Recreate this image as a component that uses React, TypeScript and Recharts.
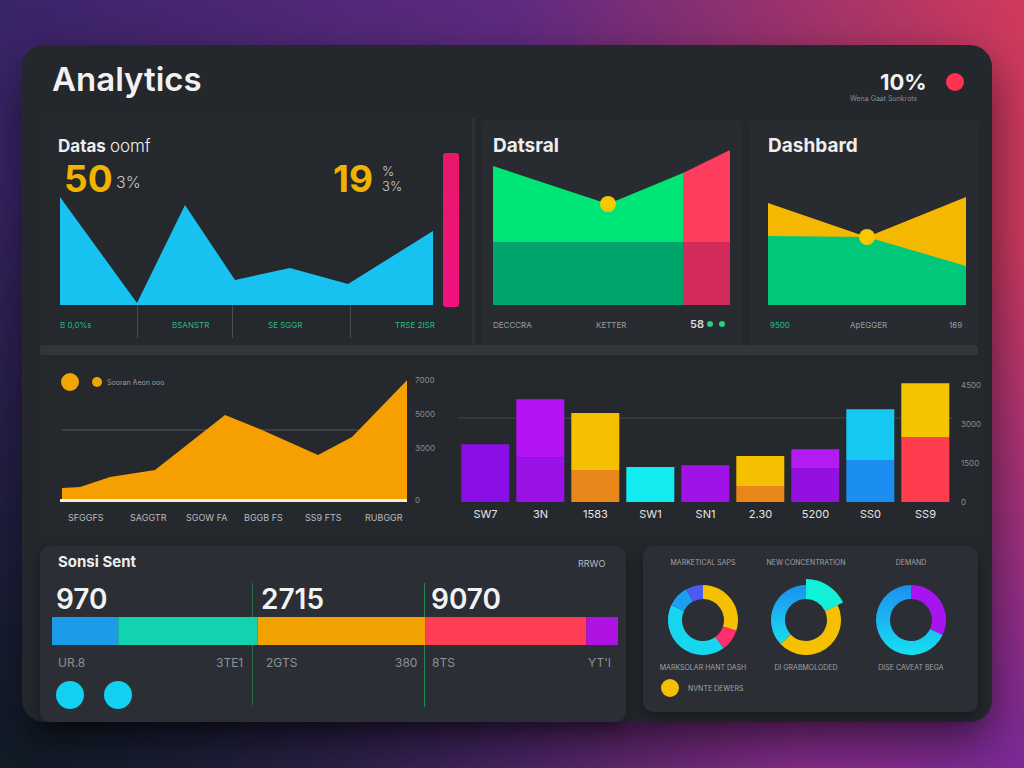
import {
  AreaChart, Area, BarChart, Bar, Cell, PieChart, Pie, XAxis, YAxis,
  CartesianGrid, ReferenceDot,
} from 'recharts';

// top-left: cyan area (x positions are uneven)
const trafficX = [0, 77, 125, 175, 230, 288, 373];
const trafficVals = [108, 2, 100, 25, 37, 21, 74];
const trafficLabels = ['B 0,0%s', 'BSANSTR', 'SE SGGR', 'TRSE 2ISR'];

// top-middle: stacked green / red area
const datsralX = [0, 115, 190, 237];
const datsralBase = [63, 63, 63, 63];
const datsralTop = [76, 38, 69, 92];

// top-right: yellow behind green
const dashX = [0, 99, 198];
const dashYellow = [102, 68, 108];
const dashGreen = [69, 68, 39];

// middle-left: orange area
const revenueX = [0, 18, 48, 93, 163, 200, 256, 290, 345];
const revenueVals = [700, 760, 1340, 1750, 4960, 4090, 2630, 3680, 7000];
const revenueTicks = [0, 3000, 5000, 7000];
const revenueLabels = ['SFGGFS', 'SAGGTR', 'SGOW FA', 'BGGB FS', 'SS9 FTS', 'RUBGGR'];

// middle-right: stacked bars
const barCats = ['SW7', '3N', '1583', 'SW1', 'SN1', '2.30', '5200', 'SS0', 'SS9'];
const barLow = [2230, 1730, 1230, 1350, 1420, 620, 1310, 1620, 2500];
const barHigh = [0, 2230, 2200, 0, 0, 1150, 730, 1960, 2080];
const lowColors = ['#8a0ee6', '#9b12e6', '#e8861a', '#12ecf0', '#a012e8', '#e8861a', '#9410e0', '#1c8ef2', '#ff3d4f'];
const highColors = ['#b414f4', '#b414f4', '#f5c000', '#12ecf0', '#a012e8', '#f5c000', '#b41cf2', '#14c8f2', '#f5c400'];
const barTicks = [0, 1500, 3000, 4500];

// bottom-left: horizontal stacked bar
const shareKeys = ['a', 'b', 'c', 'd', 'e'];
const shareVals = [11.7, 24.6, 29.7, 28.4, 5.6];
const shareColors = ['#1c9ce8', '#12d2b0', '#f2a200', '#ff3d55', '#b012e2'];
const shareBig = ['970', '2715', '9070'];
const shareSmall = ['UR.8', '3TE1', '2GTS', '380', '8TS', "YT'I"];

// donuts
const donut1 = [30, 10, 42, 10, 8];
const donut1Colors = ['#f5c000', '#ff2e6e', '#16d6f0', '#1e9ef0', '#4a5cf0'];
const donut2 = [18, 45, 37];
const donut2Colors = ['#12f0d8', '#f5c000', '#1eb4f0'];
const donut3 = [32, 68];
const donut3Colors = ['#a814f0', '#16d0f0'];
const donutTitles = ['MARKETICAL SAPS', 'NEW CONCENTRATION', 'DEMAND'];
const donutNotes = ['MARKSOLAR HANT DASH', 'DI GRABMOLODED', 'DISE CAVEAT BEGA'];

const FONT = "Inter, 'Open Sans', 'DejaVu Sans', sans-serif";
const M = { top: 0, right: 0, bottom: 0, left: 0 };

const abs = (left: number, top: number, extra: any = {}): any => ({
  position: 'absolute', left, top, ...extra,
});

const Txt = ({ x, y, size, color, weight = 400, children, extra = {} }: any) => (
  <div style={abs(x, y, { fontSize: size, color, fontWeight: weight, lineHeight: 1, whiteSpace: 'nowrap', ...extra })}>
    {children}
  </div>
);

const Dot = ({ cx, cy, r, color }: any) => (
  <div style={abs(cx - r, cy - r, { width: r * 2, height: r * 2, borderRadius: '50%', background: color })} />
);

const VLine = ({ x, y1, y2, color }: any) => (
  <div style={abs(x, y1, { width: 1, height: y2 - y1, background: color })} />
);

const Donut = ({ cx, data, colors, id, extra }: any) => {
  const rows = data.map((v: number, i: number) => ({ name: `s${i}`, v }));
  return (
    <div style={abs(cx - 45, 575, { width: 90, height: 90 })}>
      <PieChart width={90} height={90} margin={M}>
        <defs>
          <linearGradient id={id} x1="0" y1="0" x2="0" y2="1">
            <stop offset="0%" stopColor="#1e8ff0" />
            <stop offset="100%" stopColor="#16e0f0" />
          </linearGradient>
        </defs>
        <Pie data={rows} dataKey="v" cx={45} cy={45} innerRadius={21} outerRadius={35}
          startAngle={90} endAngle={-270} stroke="none" isAnimationActive={false}>
          {rows.map((_: any, i: number) => <Cell key={i} fill={colors[i]} />)}
        </Pie>
        {extra}
      </PieChart>
    </div>
  );
};

export default function App() {
  const trafficData = trafficX.map((t, i) => ({ t, v: trafficVals[i] }));
  const datsralData = datsralX.map((t, i) => ({ t, base: datsralBase[i], top: datsralTop[i] }));
  const dashData = dashX.map((t, i) => ({ t, y: dashYellow[i], g: dashGreen[i] }));
  const revenueData = revenueX.map((t, i) => ({ t, v: revenueVals[i] }));
  const barData = barCats.map((name, i) => ({ name, low: barLow[i], high: barHigh[i] }));
  const shareRow = [Object.fromEntries(shareKeys.map((k, i) => [k, shareVals[i]]))];
  const split = (190 / 237) * 100;

  return (
    <div style={abs(0, 0, {
      width: 1024, height: 768, overflow: 'hidden', fontFamily: FONT,
      background: 'radial-gradient(ellipse at 0% 100%, #101c26 0%, rgba(16,28,38,0) 55%), radial-gradient(ellipse at 100% 100%, #7a2a9a 0%, rgba(122,42,154,0) 50%), linear-gradient(90deg, #3a2468 0%, #5e2a80 50%, #d03a5c 100%)',
    })}>
      {/* main card */}
      <div style={abs(22, 45, {
        width: 970, height: 677, borderRadius: 22, background: '#24272c',
        boxShadow: '0 20px 50px rgba(0,0,0,0.55)',
      })} />

      {/* section panels */}
      <div style={abs(40, 118, { width: 432, height: 228, background: '#25282d', borderRight: '3px solid #2e3136' })} />
      <div style={abs(482, 120, { width: 260, height: 226, background: '#282b30', borderRadius: 6 })} />
      <div style={abs(750, 120, { width: 228, height: 226, background: '#282b30', borderRadius: 6 })} />
      <div style={abs(40, 345, { width: 938, height: 10, background: '#32353a', borderRadius: 3 })} />
      <div style={abs(40, 358, { width: 938, height: 175, background: '#25282d' })} />
      <div style={abs(40, 546, { width: 586, height: 176, background: '#2b2e34', borderRadius: 10, boxShadow: '0 6px 16px rgba(0,0,0,0.35)' })} />
      <div style={abs(643, 546, { width: 335, height: 166, background: '#2b2e34', borderRadius: 10, boxShadow: '0 6px 16px rgba(0,0,0,0.35)' })} />

      {/* header */}
      <Txt x={52} y={63} size={33} color="#f2f2f2" weight={600}>Analytics</Txt>
      <Txt x={880} y={71} size={22} color="#f2f2f2" weight={700}>10%</Txt>
      <Txt x={850} y={95} size={7} color="#8a8d92">Wena Gaat Sunkrots</Txt>
      <Dot cx={955} cy={82} r={9} color="#ff3350" />

      {/* top-left */}
      <Txt x={58} y={138} size={17} color="#eeeeee" weight={700}>Datas <span style={{ fontWeight: 300 }}>oomf</span></Txt>
      <Txt x={64} y={160} size={37} color="#f0b400" weight={700}>50</Txt>
      <Txt x={116} y={174} size={16} color="#c8c8c8" weight={300}>3%</Txt>
      <Txt x={333} y={160} size={37} color="#f0b400" weight={700}>19</Txt>
      <Txt x={382} y={165} size={13} color="#c8c8c8" weight={300}>%</Txt>
      <Txt x={382} y={180} size={13} color="#c8c8c8" weight={300}>3%</Txt>
      <div style={abs(60, 190, { width: 373, height: 115 })}>
        <AreaChart width={373} height={115} data={trafficData} margin={M}>
          <XAxis type="number" dataKey="t" domain={['dataMin', 'dataMax']} hide />
          <YAxis domain={[0, 115]} hide />
          <Area type="linear" dataKey="v" stroke="none" fill="#17c2f0" fillOpacity={1} isAnimationActive={false} />
        </AreaChart>
      </div>
      <div style={abs(443, 153, { width: 16, height: 154 })}>
        <BarChart width={16} height={154} data={[{ v: 1 }]} margin={M} barCategoryGap={0}>
          <defs>
            <linearGradient id="pinkBar" x1="0" y1="0" x2="0" y2="1">
              <stop offset="0%" stopColor="#e8186a" />
              <stop offset="100%" stopColor="#f0127e" />
            </linearGradient>
          </defs>
          <XAxis hide />
          <YAxis domain={[0, 1]} hide />
          <Bar dataKey="v" fill="url(#pinkBar)" radius={3} isAnimationActive={false} />
        </BarChart>
      </div>
      {[137, 232, 350].map((x) => <VLine key={x} x={x} y1={305} y2={338} color="#4a4d52" />)}
      {trafficLabels.map((l, i) => (
        <Txt key={l} x={[60, 172, 268, 395][i]} y={321} size={8} color="#1fbf7f">{l}</Txt>
      ))}

      {/* top-middle */}
      <Txt x={493} y={136} size={19} color="#eeeeee" weight={700}>Datsral</Txt>
      <div style={abs(493, 150, { width: 237, height: 155 })}>
        <AreaChart width={237} height={155} data={datsralData} margin={M}>
          <defs>
            <linearGradient id="dsLow" x1="0" y1="0" x2="1" y2="0">
              <stop offset={`${split}%`} stopColor="#00a56c" />
              <stop offset={`${split}%`} stopColor="#d22a5a" />
            </linearGradient>
            <linearGradient id="dsTop" x1="0" y1="0" x2="1" y2="0">
              <stop offset={`${split}%`} stopColor="#00e676" />
              <stop offset={`${split}%`} stopColor="#ff3d5e" />
            </linearGradient>
          </defs>
          <XAxis type="number" dataKey="t" domain={['dataMin', 'dataMax']} hide />
          <YAxis domain={[0, 155]} hide />
          <Area type="linear" dataKey="base" stackId="a" stroke="none" fill="url(#dsLow)" fillOpacity={1} isAnimationActive={false} />
          <Area type="linear" dataKey="top" stackId="a" stroke="none" fill="url(#dsTop)" fillOpacity={1} isAnimationActive={false} />
          <ReferenceDot x={datsralX[1]} y={datsralBase[1] + datsralTop[1]} r={8} fill="#f5c800" stroke="none" />
        </AreaChart>
      </div>
      <Txt x={493} y={321} size={8} color="#9a9da2">DECCCRA</Txt>
      <Txt x={596} y={321} size={8} color="#9a9da2">KETTER</Txt>
      <Txt x={690} y={319} size={11} color="#dddddd" weight={600}>58</Txt>
      <Dot cx={710} cy={324} r={3} color="#1fd37f" />
      <Dot cx={722} cy={324} r={3} color="#1fd37f" />

      {/* top-right */}
      <Txt x={768} y={136} size={19} color="#eeeeee" weight={700}>Dashbard</Txt>
      <div style={abs(768, 190, { width: 198, height: 115 })}>
        <AreaChart width={198} height={115} data={dashData} margin={M}>
          <XAxis type="number" dataKey="t" domain={['dataMin', 'dataMax']} hide />
          <YAxis domain={[0, 115]} hide />
          <Area type="linear" dataKey="y" stroke="none" fill="#f5b800" fillOpacity={1} isAnimationActive={false} />
          <Area type="linear" dataKey="g" stroke="none" fill="#00c878" fillOpacity={1} isAnimationActive={false} />
          <ReferenceDot x={dashX[1]} y={dashGreen[1]} r={8} fill="#f5c800" stroke="none" />
        </AreaChart>
      </div>
      <Txt x={770} y={321} size={8} color="#1fbf7f">9500</Txt>
      <Txt x={850} y={321} size={8} color="#9a9da2">ApEGGER</Txt>
      <Txt x={949} y={321} size={8} color="#9a9da2">169</Txt>

      {/* middle-left */}
      <Dot cx={70} cy={382} r={9} color="#f0a500" />
      <Dot cx={97} cy={382} r={5} color="#f0a500" />
      <Txt x={107} y={379} size={7} color="#9a9da2">Sooran Aeon ooo</Txt>
      <div style={abs(62, 375, { width: 383, height: 135 })}>
        <AreaChart width={383} height={135} data={revenueData} margin={{ top: 0, right: 0, bottom: 10, left: 0 }}>
          <CartesianGrid horizontal vertical={false} horizontalPoints={[55]} stroke="#55585d" />
          <XAxis type="number" dataKey="t" domain={[0, 345]} hide />
          <YAxis orientation="right" width={38} domain={[0, 7300]} ticks={revenueTicks} interval={0}
            axisLine={false} tickLine={false} tick={{ fill: '#8a8d92', fontSize: 8 }} />
          <Area type="linear" dataKey="v" stroke="none" fill="#f5a000" fillOpacity={1} isAnimationActive={false} />
        </AreaChart>
      </div>
      <div style={abs(60, 499, { width: 347, height: 3, background: '#f4eee0' })} />
      {revenueLabels.map((l, i) => (
        <Txt key={l} x={[68, 130, 186, 244, 305, 365][i]} y={513} size={9} color="#b8bbc0">{l}</Txt>
      ))}

      {/* middle-right */}
      <div style={abs(458, 375, { width: 525, height: 152 })}>
        <BarChart width={525} height={152} data={barData} margin={M} barCategoryGap="6%">
          <CartesianGrid horizontal vertical={false} horizontalPoints={[43]} stroke="#45484d" />
          <XAxis dataKey="name" axisLine={false} tickLine={false} height={25}
            tick={{ fill: '#e6e6e6', fontSize: 11 }} />
          <YAxis orientation="right" width={30} domain={[0, 4900]} ticks={barTicks} interval={0}
            axisLine={false} tickLine={false} tick={{ fill: '#8a8d92', fontSize: 8 }} />
          <Bar dataKey="low" stackId="s" isAnimationActive={false}>
            {barData.map((_, i) => <Cell key={i} fill={lowColors[i]} />)}
          </Bar>
          <Bar dataKey="high" stackId="s" isAnimationActive={false}>
            {barData.map((_, i) => <Cell key={i} fill={highColors[i]} />)}
          </Bar>
        </BarChart>
      </div>

      {/* bottom-left */}
      <Txt x={58} y={554} size={15} color="#eeeeee" weight={700}>Sonsi Sent</Txt>
      <Txt x={578} y={559} size={9} color="#b8bbc0">RRWO</Txt>
      <VLine x={252} y1={583} y2={705} color="#2a6a4a" />
      <VLine x={424} y1={583} y2={707} color="#1e8a50" />
      {shareBig.map((t, i) => (
        <Txt key={t} x={[56, 261, 431][i]} y={585} size={28} color="#f2f2f2" weight={600}>{t}</Txt>
      ))}
      <div style={abs(52, 617, { width: 566, height: 28 })}>
        <BarChart width={566} height={28} data={shareRow} layout="vertical" margin={M} barCategoryGap={0}>
          <XAxis type="number" domain={[0, 100]} hide />
          <YAxis type="category" hide />
          {shareKeys.map((k, i) => (
            <Bar key={k} dataKey={k} stackId="x" fill={shareColors[i]} isAnimationActive={false} />
          ))}
        </BarChart>
      </div>
      {shareSmall.map((t, i) => (
        <Txt key={t} x={[58, 216, 266, 395, 432, 588][i]} y={657} size={12} color="#8e9196">{t}</Txt>
      ))}
      <Dot cx={70} cy={695} r={14} color="#12d0f0" />
      <Dot cx={118} cy={695} r={14} color="#12d0f0" />

      {/* bottom-right donuts */}
      {donutTitles.map((t, i) => (
        <Txt key={t} x={[703, 806, 911][i]} y={559} size={7} color="#a0a3a8" extra={{ transform: 'translateX(-50%)' }}>{t}</Txt>
      ))}
      <Donut cx={703} id="g1" data={donut1} colors={donut1Colors} />
      <Donut cx={806} id="g2" data={donut2} colors={['#12f0d8', '#f5c000', 'url(#g2)']}
        extra={
          <Pie data={donut2.map((v, i) => ({ v, i }))} dataKey="v" cx={45} cy={45} innerRadius={26} outerRadius={41}
            startAngle={90} endAngle={-270} stroke="none" isAnimationActive={false}>
            {donut2.map((_, i) => <Cell key={i} fill={i === 0 ? donut2Colors[0] : 'transparent'} />)}
          </Pie>
        } />
      <Donut cx={911} id="g3" data={donut3} colors={[donut3Colors[0], 'url(#g3)']} />
      {donutNotes.map((t, i) => (
        <Txt key={t} x={[703, 806, 911][i]} y={664} size={7} color="#a0a3a8" extra={{ transform: 'translateX(-50%)' }}>{t}</Txt>
      ))}
      <Dot cx={670} cy={688} r={9} color="#f5c000" />
      <Txt x={688} y={685} size={7} color="#a0a3a8">NVNTE DEWERS</Txt>
    </div>
  );
}
